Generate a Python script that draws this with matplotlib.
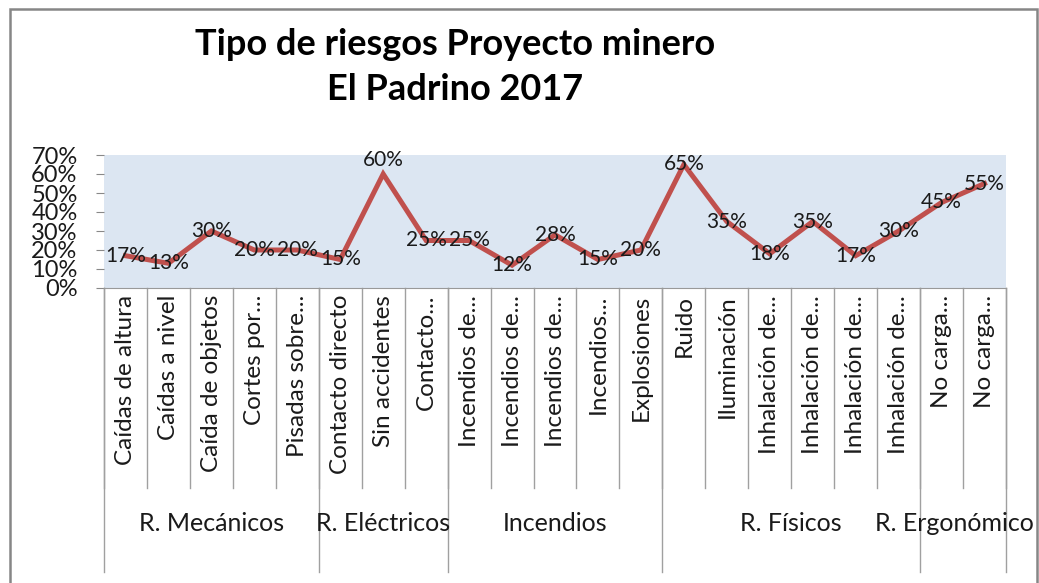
import matplotlib
matplotlib.use('Agg')
import matplotlib.pyplot as plt
import matplotlib.transforms as mtransforms
from matplotlib.patches import Rectangle
from matplotlib.ticker import PercentFormatter

categorias = ['Caídas de altura', 'Caídas a nivel', 'Caída de objetos', 'Cortes por...',
              'Pisadas sobre...', 'Contacto directo', 'Sin accidentes', 'Contacto...',
              'Incendios de...', 'Incendios de...', 'Incendios de...', 'Incendios...',
              'Explosiones', 'Ruido', 'Iluminación', 'Inhalación de...', 'Inhalación de...',
              'Inhalación de...', 'Inhalación de...', 'No carga...', 'No carga...']
valores = [0.17, 0.13, 0.30, 0.20, 0.20, 0.15, 0.60, 0.25, 0.25, 0.12, 0.28, 0.15,
           0.20, 0.65, 0.35, 0.18, 0.35, 0.17, 0.30, 0.45, 0.55]
grupos = ['R. Mecánicos', 'R. Eléctricos', 'Incendios', 'R. Físicos', 'R. Ergonómico']
grupo_tamanos = [5, 3, 5, 6, 2]

plt.rcParams['font.family'] = ['Lato', 'DejaVu Sans']

W, H = 1039, 583
fig = plt.figure(figsize=(W / 100, H / 100), dpi=100)

# plot area in pixels
left, right, top, bottom = 104, 1006, 155, 288
ax = fig.add_axes([left / W, (H - bottom) / H, (right - left) / W, (bottom - top) / H])
ax.set_facecolor('#DCE6F2')

x = list(range(len(categorias)))
ax.plot(x, valores, color='#C0504D', lw=3.6, solid_joinstyle='miter')

for i, v in enumerate(valores):
    dy = 10 if i == 6 else 0  # Excel put "Sin accidentes" above the point
    ax.annotate(f'{round(v * 100)}%', (i, v), xytext=(0, dy), textcoords='offset points',
                ha='center', va='center', fontsize=15, color='#1a1a1a')

ax.set_xlim(-0.5, len(categorias) - 0.5)
ax.set_ylim(0, 0.7)
ax.set_yticks([i / 10 for i in range(8)])
ax.yaxis.set_major_formatter(PercentFormatter(1.0, decimals=0))
ax.tick_params(axis='y', length=6, color='#888888', labelsize=17, pad=13, labelcolor='#1a1a1a')
ax.set_xticks([])
for s in ['top', 'right', 'left']:
    ax.spines[s].set_visible(False)
ax.spines['bottom'].set_color('#999999')

trans = mtransforms.blended_transform_factory(ax.transData, ax.transAxes)
ph = bottom - top
y_cat = (bottom - 488) / ph
y_grp = (bottom - 572) / ph

# category separators
for i in range(len(categorias) + 1):
    ax.plot([i - 0.5, i - 0.5], [0, y_cat], color='#A0A0A0', lw=1, transform=trans, clip_on=False)

for i, c in enumerate(categorias):
    ax.text(i, (bottom - 295) / ph, c, rotation=90, ha='center', va='top', fontsize=17.5,
            color='#1a1a1a', transform=trans)

# group separators and labels
start = 0
bounds = [0]
for g, n in zip(grupos, grupo_tamanos):
    centro = start + n / 2 - 0.5
    if g == grupos[-1]:
        ax.text(1034, (bottom - 524) / ph, g, ha='right', va='center', fontsize=18,
                color='#1a1a1a', transform=mtransforms.blended_transform_factory(
                    mtransforms.IdentityTransform(), ax.transAxes))
    else:
        ax.text(centro, (bottom - 524) / ph, g, ha='center', va='center', fontsize=18,
                color='#1a1a1a', transform=trans)
    start += n
    bounds.append(start)
for b in bounds:
    ax.plot([b - 0.5, b - 0.5], [0, y_grp], color='#A0A0A0', lw=1, transform=trans, clip_on=False)

fig.text(455 / W, 1 - 28 / H, 'Tipo de riesgos Proyecto minero\nEl Padrino 2017', ha='center',
         va='top', fontsize=26, fontweight='bold', linespacing=1.45)

fig.add_artist(Rectangle((10 / W, -0.2), 1027 / W, 1.2 - 9 / H, transform=fig.transFigure,
                         fill=False, ec='#868686', lw=1.8))

fig.savefig('out.png', dpi=100)
